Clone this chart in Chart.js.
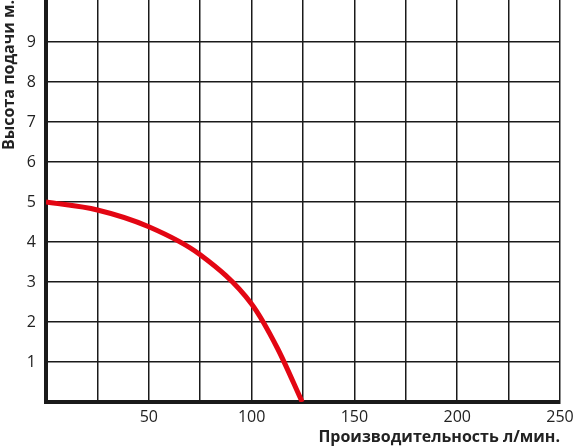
<!DOCTYPE html>
<html><head><meta charset="utf-8">
<script src="https://cdn.jsdelivr.net/npm/chart.js@4"></script>
<style>html,body{margin:0;padding:0;background:#fff}#wrap{width:575px;height:447px}</style>
</head><body><div id="wrap"><canvas id="c"></canvas></div>
<script>
const flowValues = [0, 25, 50, 75, 100, 112.5, 124.6];
const headValues = [5, 4.8, 4.38, 3.68, 2.45, 1.35, 0];
const xTickLabels = [50, 100, 150, 200, 250];
const yTickLabels = [1, 2, 3, 4, 5, 6, 7, 8, 9];
const xTitle = 'Производительность л/мин.';
const yTitle = 'Высота подачи м.';

const pts = flowValues.map((x, i) => ({x, y: headValues[i]}));
const lineCol = '#1a1a1a';
const tickFont = {family: 'Open Sans', size: 16};
const titleFont = {family: 'Open Sans', size: 16, weight: 'bold'};
new Chart(document.getElementById('c'), {
  type: 'line',
  data: {datasets: [{data: pts, borderColor: '#e30613', borderWidth: 5, pointRadius: 0, cubicInterpolationMode: 'monotone', fill: false, borderCapStyle: 'butt'}]},
  options: {
    responsive: true, maintainAspectRatio: false, animation: false,
    layout: {padding: {top: 0, right: 15, left: 0, bottom: 0}, autoPadding: false},
    plugins: {legend: {display: false}, tooltip: {enabled: false}},
    scales: {
      x: {
        type: 'linear', min: 0, max: 250,
        afterBuildTicks: s => { s.ticks = [0,25,50,75,100,125,150,175,200,225,250].map(v => ({value: v})); },
        afterFit: s => { s.height = 45; s.paddingLeft = 0; s.paddingRight = 0; },
        ticks: {padding: 6, color: '#222', font: tickFont, maxRotation: 0, autoSkip: false,
          callback: v => xTickLabels.includes(v) ? String(v) : ''},
        grid: {color: lineCol, lineWidth: 1.5, drawTicks: false},
        border: {color: lineCol, width: 4},
        title: {display: true, text: xTitle, align: 'end', color: '#222', font: titleFont, padding: {top: 0, bottom: 0}}
      },
      y: {
        type: 'linear', min: 0, max: 10.05,
        afterBuildTicks: s => { s.ticks = [0,1,2,3,4,5,6,7,8,9,10].map(v => ({value: v})); },
        afterFit: s => { s.width = 46; s.paddingTop = 0; s.paddingBottom = 0; },
        ticks: {padding: 10, color: '#222', font: tickFont,
          callback: v => yTickLabels.includes(v) ? String(v) : ''},
        grid: {color: c => (c.tick && c.tick.value === 10) ? 'rgba(0,0,0,0)' : lineCol, lineWidth: 1.5, drawTicks: false},
        border: {color: lineCol, width: 4},
        title: {display: true, text: yTitle, align: 'end', color: '#222', font: titleFont, padding: {top: 0, bottom: 0}}
      }
    }
  }
});
</script></body></html>
